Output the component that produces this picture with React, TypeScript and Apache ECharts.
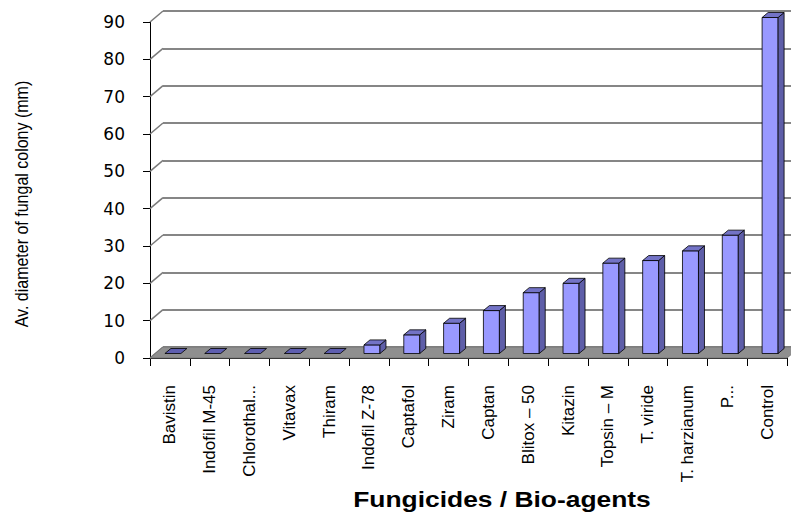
import React, { useEffect, useRef } from "react";
import * as echarts from "echarts";

const categories = [
  "Bavistin",
  "Indofil M-45",
  "Chlorothal...",
  "Vitavax",
  "Thiram",
  "Indofil Z-78",
  "Captafol",
  "Ziram",
  "Captan",
  "Blitox – 50",
  "Kitazin",
  "Topsin – M",
  "T. viride",
  "T. harzianum",
  "P...",
  "Control",
];
const values = [0, 0, 0, 0, 0, 2.3, 5, 8.1, 11.5, 16.3, 18.8, 24.2, 24.9, 27.5, 31.7, 90];
const yTicks = [0, 10, 20, 30, 40, 50, 60, 70, 80, 90];

const FONT = "'Liberation Sans', Arial, sans-serif";
const DEPTH_X = 13;
const DEPTH_Y = -11;

export default function App() {
  const ref = useRef<HTMLDivElement>(null);
  useEffect(() => {
    if (!ref.current) return;
    const chart = echarts.init(ref.current, null, { renderer: "svg" });
    const option: any = {
      animation: false,
      backgroundColor: "#fff",
      grid: [
        { left: 150, right: 4, top: 22, bottom: 158 },
        { left: 150 + DEPTH_X, right: 4 - DEPTH_X, top: 22 + DEPTH_Y, bottom: 158 - DEPTH_Y },
      ],
      xAxis: [
        {
          type: "category",
          gridIndex: 0,
          data: categories,
          axisLine: { show: true, lineStyle: { color: "#000", width: 1 } },
          axisTick: { show: true, length: 8, lineStyle: { color: "#000" } },
          axisLabel: {
            rotate: 90,
            margin: 27,
            interval: 0,
            fontSize: 17,
            fontFamily: FONT,
            color: "#000",
          },
        },
        { type: "category", gridIndex: 1, data: categories, show: false },
      ],
      yAxis: [
        {
          type: "value",
          gridIndex: 0,
          min: 0,
          max: 90,
          interval: 10,
          axisLine: { show: true, lineStyle: { color: "#000", width: 1 } },
          axisTick: { show: true, length: 7, lineStyle: { color: "#000" } },
          axisLabel: {
            margin: 25,
            fontSize: 17,
            fontFamily: "'DejaVu Sans', sans-serif",
            color: "#000",
          },
          splitLine: { show: false },
        },
        {
          type: "value",
          gridIndex: 1,
          min: 0,
          max: 90,
          interval: 10,
          axisLine: { show: false },
          axisTick: { show: false },
          axisLabel: { show: false },
          splitLine: { show: true, lineStyle: { color: "#868686", width: 2 } },
        },
      ],
      graphic: [
        {
          type: "text",
          x: 22,
          y: 204,
          rotation: Math.PI / 2,
          scaleY: 1.15,
          style: {
            text: "Av. diameter of fungal colony (mm)",
            fontSize: 16,
            fontFamily: FONT,
            fill: "#000",
            align: "center",
            verticalAlign: "middle",
          },
        },
        {
          type: "text",
          x: 502,
          y: 499,
          scaleX: 1.2,
          style: {
            text: "Fungicides / Bio-agents",
            fontSize: 22,
            fontWeight: "bold",
            fontFamily: FONT,
            fill: "#000",
            align: "center",
            verticalAlign: "middle",
          },
        },
      ],
      series: [
        {
          type: "custom",
          xAxisIndex: 0,
          yAxisIndex: 0,
          z: 1,
          data: yTicks.map((t) => [0, t]),
          renderItem: (params: any, api: any) => {
            const t = api.value(1);
            const p = api.coord([0, t]);
            const x0 = p[0] - api.size([1, 0])[0] / 2;
            const children: any[] = [
              {
                type: "line",
                shape: { x1: x0, y1: p[1], x2: x0 + DEPTH_X, y2: p[1] + DEPTH_Y },
                style: { stroke: "#7a7a7a", lineWidth: 1.5 },
              },
            ];
            if (params.dataIndex === 0) {
              const last = api.coord([categories.length - 1, 0]);
              const x1 = last[0] + api.size([1, 0])[0] / 2;
              children.push({
                type: "polygon",
                shape: {
                  points: [
                    [x0, p[1]],
                    [x1, p[1]],
                    [x1 + DEPTH_X, p[1] + DEPTH_Y],
                    [x0 + DEPTH_X, p[1] + DEPTH_Y],
                  ],
                },
                style: { fill: "#8f8f8f", stroke: "#777", lineWidth: 1 },
              });
            }
            return { type: "group", children };
          },
        },
        {
          type: "custom",
          xAxisIndex: 0,
          yAxisIndex: 0,
          z: 3,
          data: values.map((v, i) => [i, v]),
          renderItem: (params: any, api: any) => {
            const i = api.value(0);
            const v = api.value(1);
            const c0 = api.coord([i, 0]);
            const c1 = api.coord([i, v]);
            const w = 16;
            const sx = 6;
            const sy = -5;
            const x0 = c0[0] - 5;
            const yb = c0[1] - 4.5;
            const yt = c1[1] - 4.5;
            const stroke = { stroke: "#000", lineWidth: 0.8 };
            const children: any[] = [];
            if (v > 0) {
              children.push({
                type: "rect",
                shape: { x: x0, y: yt, width: w, height: yb - yt },
                style: { fill: "#9999FF", ...stroke },
              });
              children.push({
                type: "polygon",
                shape: {
                  points: [
                    [x0 + w, yb],
                    [x0 + w + sx, yb + sy],
                    [x0 + w + sx, yt + sy],
                    [x0 + w, yt],
                  ],
                },
                style: { fill: "#5E5EA8", ...stroke },
              });
            }
            children.push({
              type: "polygon",
              shape: {
                points: [
                  [x0, yt],
                  [x0 + sx, yt + sy],
                  [x0 + w + sx, yt + sy],
                  [x0 + w, yt],
                ],
              },
              style: { fill: v > 0 ? "#7373C6" : "#5E5EB0", ...stroke },
            });
            return { type: "group", children };
          },
        },
      ],
    };
    chart.setOption(option);
    return () => chart.dispose();
  }, []);
  return (
    <div
      ref={ref}
      style={{ position: "fixed", left: 0, top: 0, width: 791, height: 516, background: "#fff" }}
    />
  );
}
